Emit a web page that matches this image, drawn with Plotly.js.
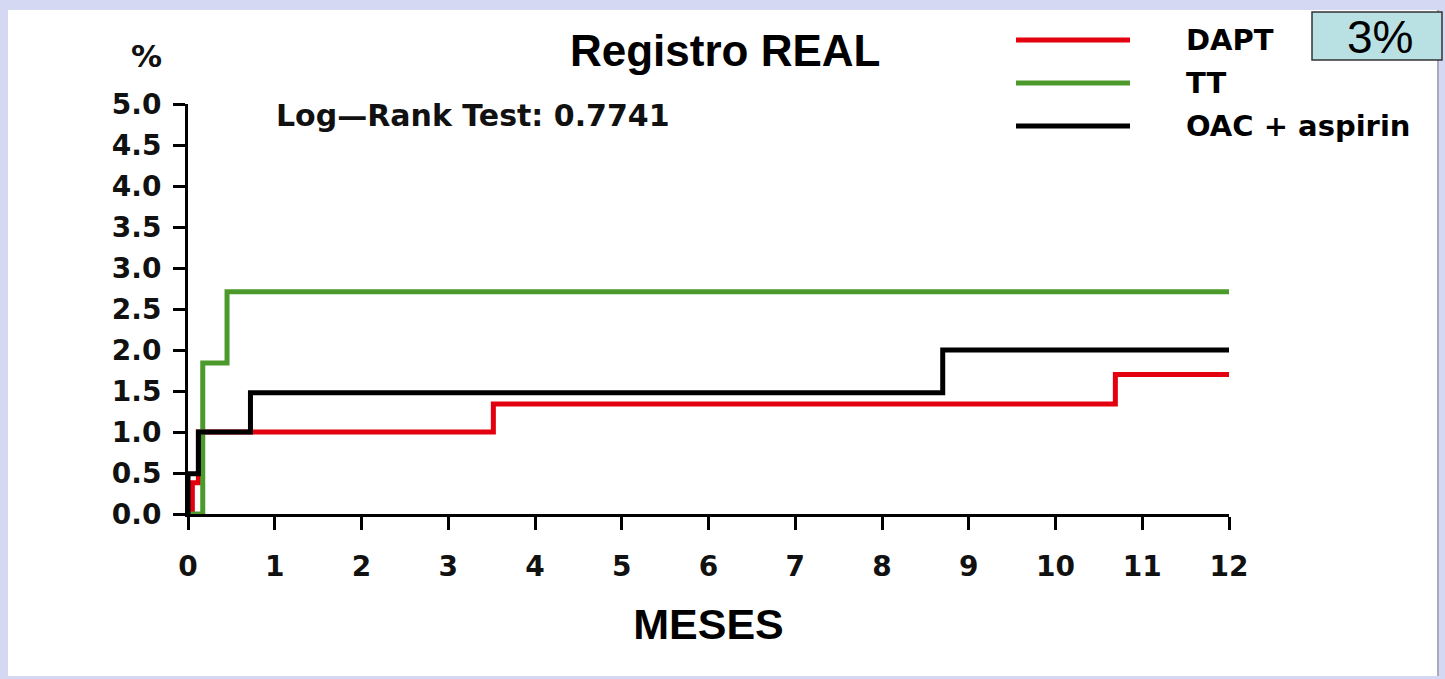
<!DOCTYPE html>
<html>
<head>
<meta charset="utf-8">
<script src="https://cdn.plot.ly/plotly-3.0.1.min.js"></script>
<style>
  html, body { margin: 0; padding: 0; background: #d4d8f3; }
  #chart { width: 1445px; height: 679px; }
</style>
</head>
<body>
<div id="chart"></div>
<script>
// ---- data ----
const seriesNames = ["DAPT", "TT", "OAC + aspirin"];
const seriesColors = ["#e3000f", "#4b9a2b", "#000000"];

const daptMonths = [0, 0.05, 0.12, 3.52, 10.69, 12];
const daptPct    = [0, 0.38, 1.00, 1.34, 1.70, 1.70];

const ttMonths = [0, 0.17, 0.45, 12];
const ttPct    = [0, 1.84, 2.71, 2.71];

const oacMonths = [0, 0, 0.12, 0.72, 8.70, 12];
const oacPct    = [0, 0.49, 1.00, 1.48, 2.00, 2.00];

const xTickVals = [0,1,2,3,4,5,6,7,8,9,10,11,12];
const yTickVals = [0,0.5,1,1.5,2,2.5,3,3.5,4,4.5,5];

const chartTitle = "Registro REAL";
const xTitle = "MESES";
const yUnit = "%";
const logRankText = "Log\u2014Rank Test: 0.7741";
const boxText = "3%";

// ---- layout helpers (pixel -> paper) ----
const L = 188, R = 1229, T = 104, B = 514;
const W = R - L, H = B - T;
const X = px => (px - L) / W;
const Y = py => (B - py) / H;

const tickFont = {family: "DejaVu Sans", size: 28, color: "#111", weight: 700};

const traces = [
  {x: daptMonths, y: daptPct, name: seriesNames[0]},
  {x: ttMonths, y: ttPct, name: seriesNames[1]},
  {x: oacMonths, y: oacPct, name: seriesNames[2]}
].map((t, i) => Object.assign(t, {
  type: "scatter", mode: "lines",
  line: {shape: "hv", color: seriesColors[i], width: 5},
  showlegend: false, hoverinfo: "skip"
}));

const shapes = [
  // white slide panel
  {type: "rect", xref: "paper", yref: "paper", layer: "below",
   x0: X(8), x1: X(1438), y0: Y(676), y1: Y(10),
   fillcolor: "#ffffff", line: {width: 0}},
  {type: "line", xref: "paper", yref: "paper", layer: "below",
   x0: X(1438), x1: X(1438), y0: Y(676), y1: Y(10),
   line: {color: "#a9abb8", width: 2}},
  // 3% box
  {type: "rect", xref: "paper", yref: "paper",
   x0: X(1312), x1: X(1442), y0: Y(60), y1: Y(12),
   fillcolor: "#b9e1e4", line: {color: "#333", width: 1.5}}
];
const legendY = [40, 83, 126];
const annotations = [
  {text: chartTitle, xref: "paper", yref: "paper", x: X(725), y: Y(50),
   xanchor: "center", yanchor: "middle", showarrow: false,
   font: {family: "Liberation Sans", size: 44, color: "#000", weight: 700}},
  {text: yUnit, xref: "paper", yref: "paper", x: X(146), y: Y(56),
   xanchor: "center", yanchor: "middle", showarrow: false,
   font: {family: "DejaVu Sans", size: 31, color: "#111", weight: 700}},
  {text: logRankText, xref: "paper", yref: "paper", x: X(274), y: Y(115),
   xanchor: "left", yanchor: "middle", showarrow: false,
   font: {family: "DejaVu Sans", size: 30, color: "#111", weight: 700}},
  {text: boxText, xref: "paper", yref: "paper", x: X(1380), y: Y(37),
   xanchor: "center", yanchor: "middle", showarrow: false,
   font: {family: "Liberation Sans", size: 46, color: "#000"}}
];
seriesNames.forEach((n, i) => {
  shapes.push({type: "line", xref: "paper", yref: "paper",
    x0: X(1016), x1: X(1130), y0: Y(legendY[i]), y1: Y(legendY[i]),
    line: {color: seriesColors[i], width: 5}});
  annotations.push({text: n, xref: "paper", yref: "paper", x: X(1184), y: Y(legendY[i]),
    xanchor: "left", yanchor: "middle", showarrow: false,
    font: {family: "DejaVu Sans", size: 29, color: "#000", weight: 700}});
});

const layout = {
  width: 1445, height: 679,
  margin: {l: L, r: 1445 - R, t: T, b: 679 - B, pad: 0},
  paper_bgcolor: "#d4d8f3",
  plot_bgcolor: "rgba(0,0,0,0)",
  showlegend: false,
  xaxis: {
    range: [0, 12], tickvals: xTickVals, ticktext: xTickVals.map(String),
    showgrid: false, zeroline: false, showline: true, linecolor: "#000", linewidth: 3,
    ticks: "outside", ticklen: 13, tickwidth: 3, tickcolor: "#000",
    ticklabelstandoff: 12, tickfont: tickFont, fixedrange: true,
    title: {text: xTitle, standoff: 28,
            font: {family: "Liberation Sans", size: 43, color: "#000", weight: 700}}
  },
  yaxis: {
    range: [0, 5], tickvals: yTickVals, ticktext: yTickVals.map(v => v.toFixed(1)),
    showgrid: false, zeroline: false, showline: true, linecolor: "#000", linewidth: 3,
    ticks: "outside", ticklen: 12, tickwidth: 3, tickcolor: "#000",
    ticklabelstandoff: 6, tickfont: tickFont, fixedrange: true
  },
  shapes: shapes,
  annotations: annotations
};

Plotly.newPlot("chart", traces, layout, {displayModeBar: false, staticPlot: true});
</script>
</body>
</html>
